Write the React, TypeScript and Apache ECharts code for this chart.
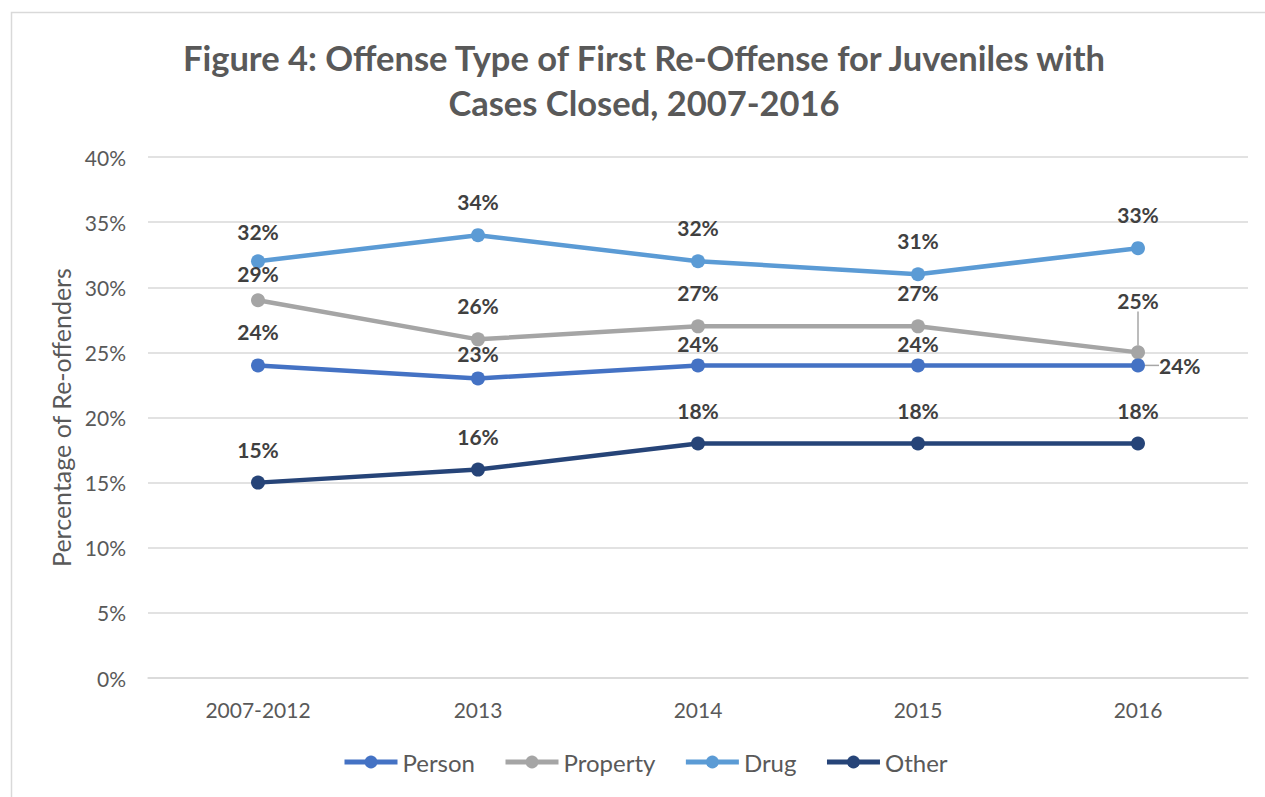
import React, { useEffect, useRef } from "react";
import * as echarts from "echarts";

const categories = ["2007-2012", "2013", "2014", "2015", "2016"];
const seriesNames = ["Person", "Property", "Drug", "Other"];
const person = [24, 23, 24, 24, 24];
const property = [29, 26, 27, 27, 25];
const drug = [32, 34, 32, 31, 33];
const other = [15, 16, 18, 18, 18];
const titleLines = [
  "Figure 4: Offense Type of First Re-Offense for Juveniles with",
  "Cases Closed, 2007-2016",
];

const FONT = "Lato, 'Open Sans', sans-serif";
const colors = ["#4472C4", "#A5A5A5", "#5B9BD5", "#264478"];

// vertical nudges of individual data labels (px), per series
const labelNudges: number[][] = [
  [0, 9, 12, 12, 0],
  [7, 0, 0, 0, -18],
  [4, 0, 0, 0, 0],
  [0, 0, 0, 0, 0],
];

function makeSeries(name: string, values: number[], color: string, idx: number) {
  return {
    name,
    type: "line",
    data: values.map((v, i) => {
      const item: any = { value: v };
      if (idx === 0 && i === 4) {
        item.label = { position: "right", distance: 14 };
        item.labelLine = { show: true, lineStyle: { color: "#A6A6A6", width: 1.5 } };
      }
      if (idx === 1 && i === 4) {
        item.labelLine = { show: true, lineStyle: { color: "#A6A6A6", width: 1.5 } };
      }
      return item;
    }),
    symbol: "circle",
    symbolSize: 14,
    lineStyle: { width: 4.5, color },
    itemStyle: { color },
    z: 10 - idx,
    label: {
      show: true,
      position: "top",
      distance: 16,
      formatter: "{c}%",
      fontSize: 21,
      fontWeight: "bold",
      color: "#404040",
      fontFamily: FONT,
    },
    labelLayout: (params: any) => {
      if (idx === 0 && params.dataIndex === 4) return {};
      const dy = labelNudges[idx][params.dataIndex] || 0;
      return dy ? { dy } : {};
    },
  };
}

export default function App() {
  const ref = useRef<HTMLDivElement>(null);
  useEffect(() => {
    if (!ref.current) return;
    const chart = echarts.init(ref.current, undefined, { renderer: "svg" });
    chart.setOption({
      animation: false,
      backgroundColor: "#fff",
      color: colors,
      graphic: [
        {
          type: "rect",
          shape: { x: 11.5, y: 12.5, width: 1400, height: 1000 },
          style: { fill: "none", stroke: "#D9D9D9", lineWidth: 1.5 },
          silent: true,
        },
        ...titleLines.map((t, i) => ({
          type: "text",
          x: 644,
          y: 57 + i * 45,
          style: {
            text: t,
            fontSize: 34.5,
            fontWeight: "bold",
            fontFamily: FONT,
            fill: "#595959",
            textAlign: "center",
            textVerticalAlign: "middle",
          },
        })),
      ],
      legend: {
        data: seriesNames,
        left: 337,
        top: 745,
        itemWidth: 53,
        itemHeight: 16,
        itemGap: 28,
        lineStyle: { width: 5 },
        textStyle: { fontSize: 24, color: "#595959", fontFamily: FONT },
      },
      grid: { left: 148, right: 17, top: 157, bottom: 119 },
      xAxis: {
        type: "category",
        data: categories,
        axisLine: { lineStyle: { color: "#D9D9D9", width: 1.5 } },
        axisTick: { show: false },
        axisLabel: { fontSize: 21, color: "#595959", margin: 21, fontFamily: FONT },
      },
      yAxis: {
        type: "value",
        min: 0,
        max: 40,
        interval: 5,
        name: "Percentage of Re-offenders",
        nameLocation: "middle",
        nameGap: 73,
        nameTextStyle: { fontSize: 25, color: "#595959", fontFamily: FONT },
        axisLabel: { formatter: "{value}%", fontSize: 21, color: "#595959", margin: 22, fontFamily: FONT },
        splitLine: { lineStyle: { color: "#D9D9D9", width: 1.5 } },
        axisLine: { show: false },
        axisTick: { show: false },
      },
      series: [
        makeSeries(seriesNames[0], person, colors[0], 0),
        makeSeries(seriesNames[1], property, colors[1], 1),
        makeSeries(seriesNames[2], drug, colors[2], 2),
        makeSeries(seriesNames[3], other, colors[3], 3),
      ],
    });
    return () => chart.dispose();
  }, []);
  return (
    <div
      ref={ref}
      style={{ position: "absolute", left: 0, top: 0, width: 1265, height: 797 }}
    />
  );
}
